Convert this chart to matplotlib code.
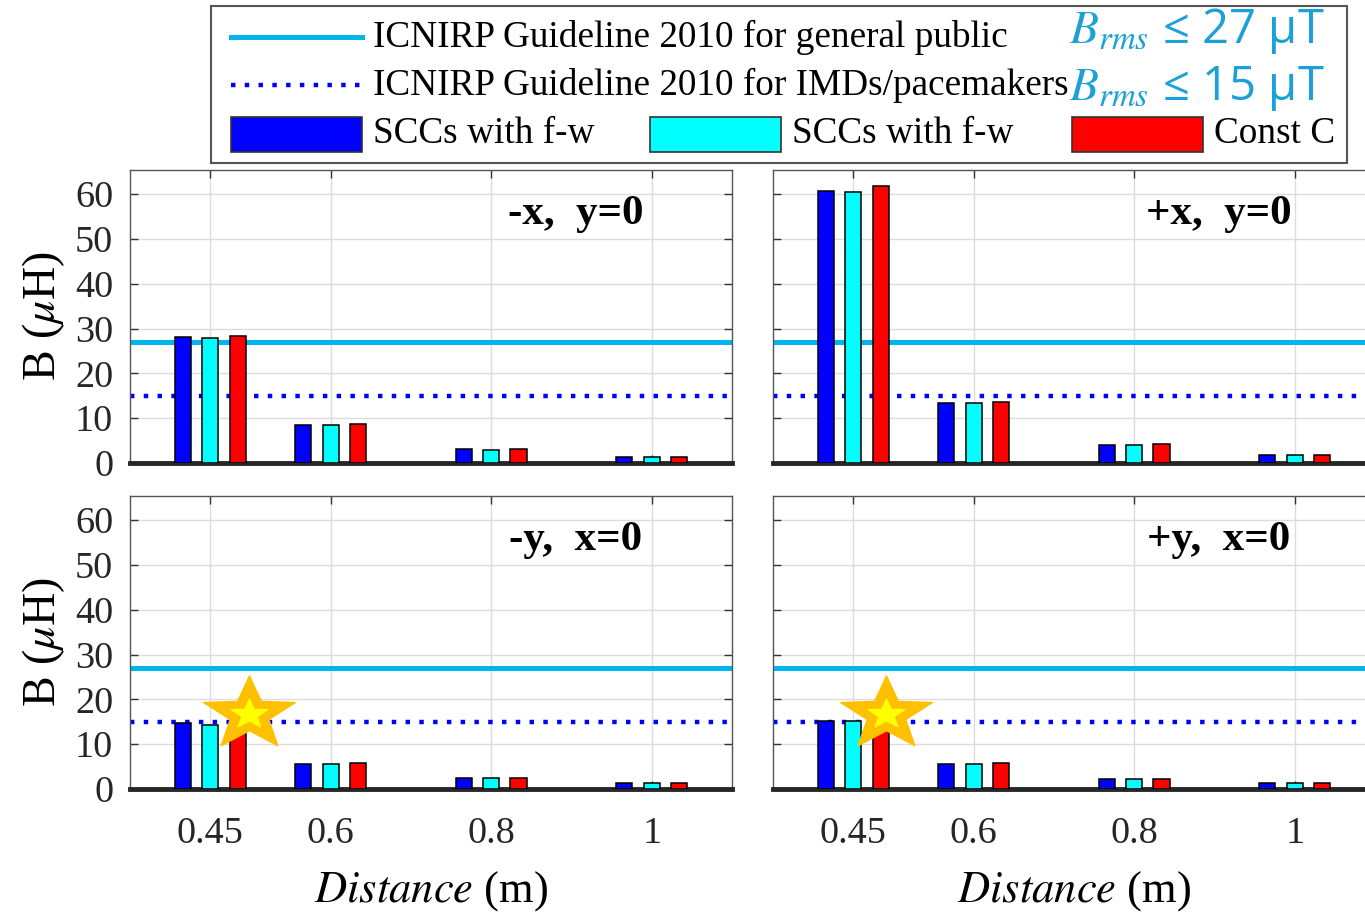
import numpy as np
import matplotlib.pyplot as plt
from matplotlib.path import Path
from matplotlib.patches import Rectangle
from matplotlib.lines import Line2D

plt.rcParams['font.family'] = ['Liberation Serif', 'DejaVu Serif']
plt.rcParams['mathtext.fontset'] = 'stix'

distances = [0.45, 0.6, 0.8, 1.0]
dist_labels = ['0.45', '0.6', '0.8', '1']
series_names = ['SCCs with f-w', 'SCCs with f-w', 'Const C']
series_colors = ['#0000FF', '#00FFFF', '#FF0000']

# B field (uT) per panel: rows = SCC f-w (blue), SCC f-w (cyan), Const C
minus_x = [[28.1, 8.5, 3.1, 1.4], [27.8, 8.4, 2.8, 1.3], [28.4, 8.7, 3.1, 1.4]]
plus_x = [[60.8, 13.4, 4.1, 1.7], [60.6, 13.4, 4.1, 1.7], [61.9, 13.7, 4.3, 1.7]]
minus_y = [[14.7, 5.6, 2.5, 1.3], [14.3, 5.5, 2.5, 1.3], [15.2, 5.9, 2.5, 1.3]]
plus_y = [[15.1, 5.6, 2.2, 1.3], [15.1, 5.6, 2.2, 1.3], [15.6, 5.9, 2.2, 1.3]]
panel_data = [minus_x, plus_x, minus_y, plus_y]
panel_titles = ['-x,  y=0', '+x,  y=0', '-y,  x=0', '+y,  x=0']

limit_public = 27
limit_imd = 15
# highlighted points (star) in bottom panels
star_x = [None, None, 0.498, 0.491]
star_y = [None, None, 16.7, 16.7]

line_col = '#00B4F0'
txt_col = '#1BA1D7'

fig = plt.figure(figsize=(13.65, 9.13), dpi=100)
W, H = 1365.0, 913.0

# wide five-point star marker
k = np.arange(10)
ang = np.deg2rad(90 + 36 * k)
rad = np.where(k % 2 == 0, 1.0, 0.42)
verts = np.column_stack([1.25 * rad * np.cos(ang), rad * np.sin(ang)])
star = Path(np.vstack([verts, verts[:1]]), closed=True)

lefts = [130, 773, 130, 773]
tops = [170, 170, 496, 496]
aw, ah = 602, 293
offsets = [-0.034, 0.0, 0.034]

for i in range(4):
    ax = fig.add_axes([lefts[i] / W, 1 - (tops[i] + ah) / H, aw / W, ah / H])
    for j in range(3):
        ax.bar(np.array(distances) + offsets[j], panel_data[i][j], width=0.02,
               color=series_colors[j], edgecolor='black', linewidth=1.1, zorder=3)
    ax.axhline(limit_public, color=line_col, lw=3.6, zorder=2)
    ax.axhline(limit_imd, color='#0000FF', lw=3.2, ls=(0, (1, 2.1)),
               dash_capstyle='butt', zorder=2)
    if star_x[i] is not None:
        ax.plot(star_x[i], star_y[i], marker=star, ms=66, color='#FFC000',
                mec='#FFC000', zorder=5, clip_on=False)
        ax.plot(star_x[i], star_y[i], marker=star, ms=26, color='#FFFF00',
                mec='#FFFF00', zorder=6, clip_on=False)
    ax.text(0.905, 55.5, panel_titles[i], ha='center', va='center',
            fontsize=31, fontweight='bold')
    ax.set_xlim(0.35, 1.1)
    ax.set_ylim(0, 65.4)
    ax.set_xticks(distances)
    ax.set_yticks(range(0, 61, 10))
    ax.grid(True, color='#DCDCDC', lw=1, zorder=0)
    ax.set_axisbelow(True)
    ax.tick_params(direction='in', length=6, width=1, color='#333333',
                   top=True, right=True, labelsize=27.5, colors='#262626')
    ax.tick_params(axis='y', pad=12)
    ax.tick_params(axis='x', pad=20)
    for s in ['top', 'left', 'right']:
        ax.spines[s].set_color('#555555')
        ax.spines[s].set_linewidth(1.0)
    ax.spines['bottom'].set_color('#262626')
    ax.spines['bottom'].set_linewidth(3.5)
    if i % 2 == 0:
        ax.set_ylabel(r'B ($\mu$H)', fontsize=33, labelpad=6)
    else:
        ax.set_yticklabels([])
    if i >= 2:
        ax.set_xticklabels(dist_labels)
        ax.set_xlabel(r'$\mathit{Distance}$ (m)', fontsize=32, labelpad=13)
    else:
        ax.set_xticklabels([])

# legend box
lg = fig.add_axes([211 / W, 1 - 163 / H, (1347 - 211) / W, (163 - 6) / H])
lg.set_xlim(211, 1347)
lg.set_ylim(163, 6)
lg.set_xticks([])
lg.set_yticks([])
for s in lg.spines.values():
    s.set_color('#555555')
    s.set_linewidth(1.5)
lg.add_line(Line2D([231, 362], [37, 37], color=line_col, lw=3.6))
lg.add_line(Line2D([231, 362], [85, 85], color='#0000FF', lw=3.2,
                   ls=(0, (1, 2.1)), dash_capstyle='butt'))
lg.text(373, 37, 'ICNIRP Guideline 2010 for general public', fontsize=26.8,
        va='center', ha='left')
lg.text(373, 85, 'ICNIRP Guideline 2010 for IMDs/pacemakers', fontsize=26.8,
        va='center', ha='left')
patch_x = [231, 650, 1072]
for j in range(3):
    lg.add_patch(Rectangle((patch_x[j], 117), 131, 35, facecolor=series_colors[j],
                           edgecolor='#333333', lw=1.2))
    lg.text(patch_x[j] + 142, 134, series_names[j], fontsize=26.8,
            va='center', ha='left')
fig.text(1069 / W, 1 - 43 / H, r'$B_{rms}$ ≤ 27 μT', color=txt_col, fontsize=34,
         ha='left', va='baseline', family=['Open Sans', 'DejaVu Sans'])
fig.text(1069 / W, 1 - 100 / H, r'$B_{rms}$ ≤ 15 μT', color=txt_col, fontsize=34,
         ha='left', va='baseline', family=['Open Sans', 'DejaVu Sans'])

fig.savefig('out.png', dpi=100)
